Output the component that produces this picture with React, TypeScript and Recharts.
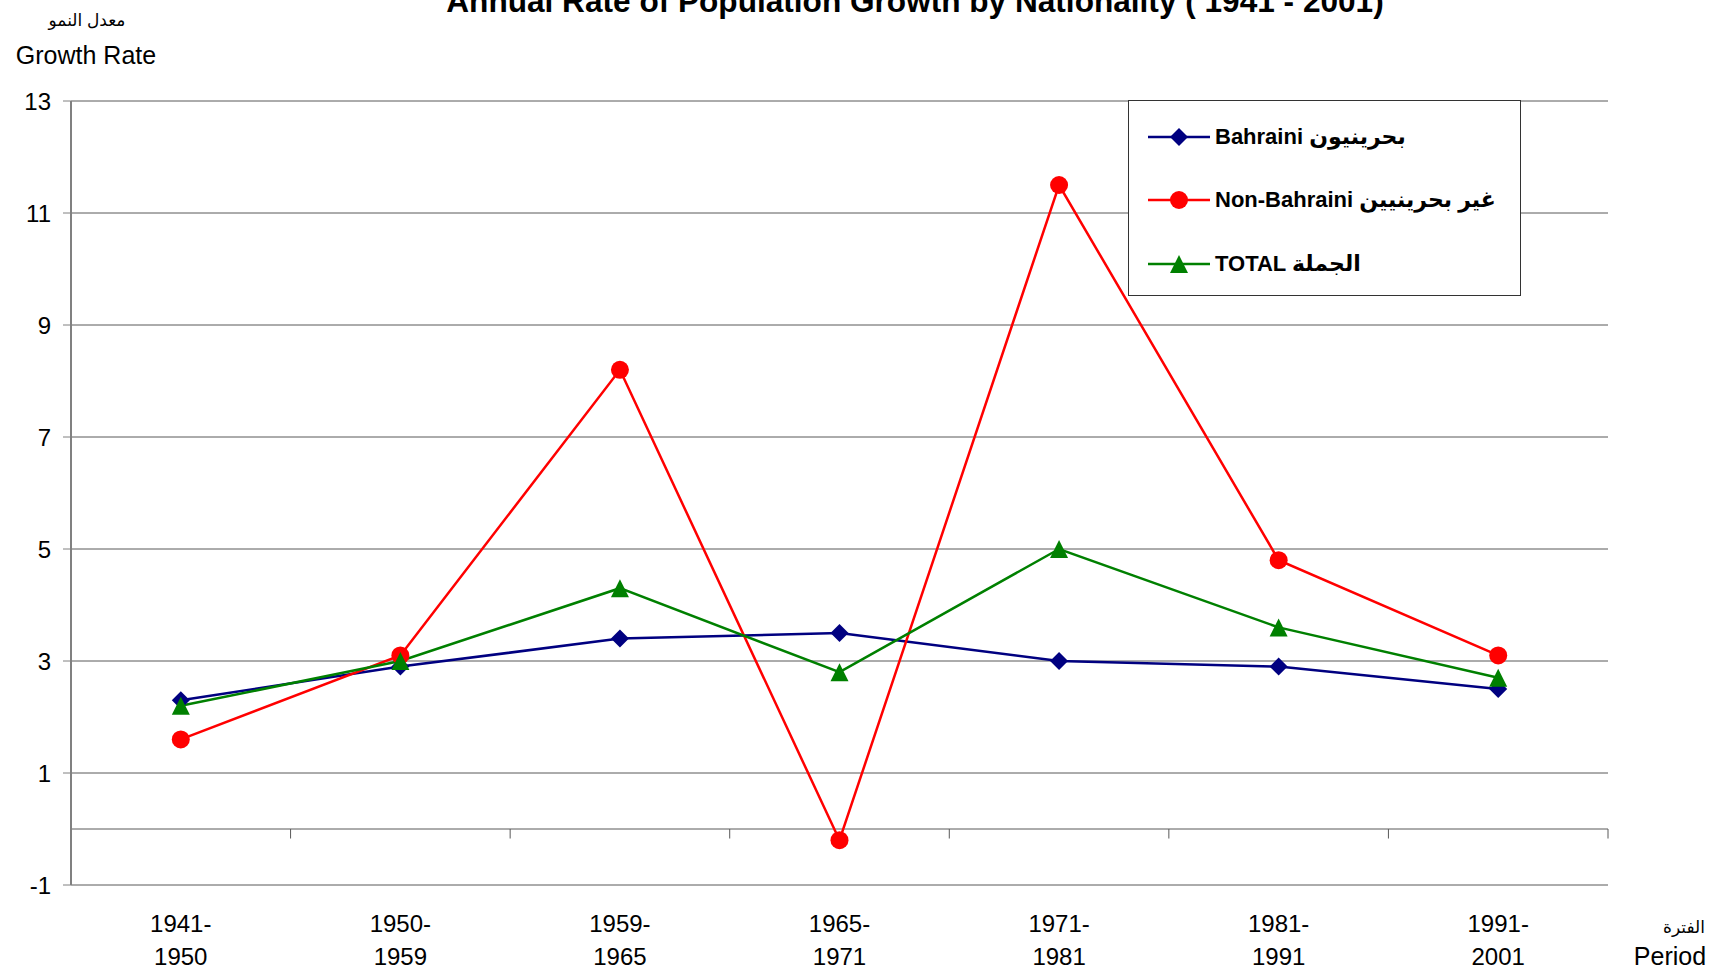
import React from "react";
import {
  LineChart, Line, XAxis, YAxis, CartesianGrid, ReferenceLine, Legend,
} from "recharts";

const PERIODS = ["1941-1950", "1950-1959", "1959-1965", "1965-1971", "1971-1981", "1981-1991", "1991-2001"];
const BAHRAINI = [2.3, 2.9, 3.4, 3.5, 3.0, 2.9, 2.5];
const NON_BAHRAINI = [1.6, 3.1, 8.2, -0.2, 11.5, 4.8, 3.1];
const TOTAL = [2.2, 3.0, 4.3, 2.8, 5.0, 3.6, 2.7];
const Y_TICKS = [-1, 1, 3, 5, 7, 9, 11, 13];

const data = PERIODS.map((period, i) => ({
  period,
  bahraini: BAHRAINI[i],
  nonBahraini: NON_BAHRAINI[i],
  total: TOTAL[i],
}));

const SERIES = [
  { key: "bahraini", name: "Bahraini بحرينيون", color: "#000080", marker: "diamond" },
  { key: "nonBahraini", name: "Non-Bahraini غير بحرينيين", color: "#FF0000", marker: "circle" },
  { key: "total", name: "TOTAL الجملة", color: "#008000", marker: "triangle" },
];

const FONT = "'Liberation Sans', Arial, 'DejaVu Sans', sans-serif";
const GRID = "#595959";

const W = 1715;
const H = 970;
const MARGIN = { top: 101, right: 107, bottom: 0, left: 11 };
const Y_AXIS_W = 60;
// half of one category slot, so points sit in the middle of each period
const HALF_BAND = (W - MARGIN.left - MARGIN.right - Y_AXIS_W) / PERIODS.length / 2;

const Marker = ({ kind, cx, cy, color }: any) => {
  if (cx == null || cy == null) return null;
  if (kind === "diamond") {
    return <polygon points={`${cx},${cy - 9} ${cx + 9},${cy} ${cx},${cy + 9} ${cx - 9},${cy}`} fill={color} />;
  }
  if (kind === "circle") return <circle cx={cx} cy={cy} r={9} fill={color} />;
  return <polygon points={`${cx},${cy - 9} ${cx + 9},${cy + 9} ${cx - 9},${cy + 9}`} fill={color} />;
};

const PeriodTick = ({ x, y, payload }: any) => {
  const [a, b] = String(payload.value).split("-");
  return (
    <text x={x} y={y} textAnchor="middle" fontSize={24} fill="#000" fontFamily={FONT}>
      <tspan x={x} dy={47}>{a}-</tspan>
      <tspan x={x} dy={32.5}>{b}</tspan>
    </text>
  );
};

// tick mark on the zero line at the right edge of a period slot
const BoundaryTick = (p: any) => (
  <line
    x1={p.x1 + HALF_BAND} y1={p.y1}
    x2={p.x2 + HALF_BAND} y2={p.y2}
    stroke={GRID} strokeWidth={1}
  />
);

const LegendBox = ({ payload }: any) => (
  <div style={{
    width: 393, height: 196, boxSizing: "border-box", border: "1px solid #333",
    background: "#fff", paddingTop: 4,
  }}>
    {(payload || []).map((item: any) => {
      const s = SERIES.find((x) => x.key === item.dataKey) || SERIES[0];
      return (
        <div key={s.key} style={{ height: 63.5, display: "flex", alignItems: "center", paddingLeft: 19 }}>
          <svg width={62} height={22} style={{ flex: "none" }}>
            <line x1={0} y1={11} x2={62} y2={11} stroke={s.color} strokeWidth={2.5} />
            <Marker kind={s.marker} cx={31} cy={11} color={s.color} />
          </svg>
          <span style={{
            marginLeft: 5, fontFamily: FONT, fontWeight: 700, fontSize: 22,
            color: "#000", whiteSpace: "nowrap",
          }}>
            {s.name}
          </span>
        </div>
      );
    })}
  </div>
);

export default function App() {
  return (
    <div style={{ position: "absolute", left: 0, top: 0, width: W, height: H, background: "#fff" }}>
      <LineChart width={W} height={H} data={data} margin={MARGIN}>
        <CartesianGrid vertical={false} stroke={GRID} />
        <XAxis
          dataKey="period"
          padding={{ left: HALF_BAND, right: HALF_BAND }}
          axisLine={false}
          tickLine={false}
          tickSize={0}
          tickMargin={0}
          height={85}
          interval={0}
          tick={<PeriodTick />}
        />
        <YAxis
          domain={[-1, 13]}
          ticks={Y_TICKS}
          interval={0}
          width={Y_AXIS_W}
          axisLine={{ stroke: "#808080", strokeWidth: 2 }}
          tickLine={{ stroke: "#808080" }}
          tickSize={8}
          tickMargin={12}
          tick={{ fontSize: 24, fill: "#000", fontFamily: FONT }}
        />
        <ReferenceLine y={0} stroke={GRID} />
        {PERIODS.map((p) => (
          <ReferenceLine
            key={p}
            segment={[{ x: p, y: 0 }, { x: p, y: -0.17 }]}
            shape={BoundaryTick}
            ifOverflow="visible"
          />
        ))}
        {SERIES.map((s) => (
          <Line
            key={s.key}
            dataKey={s.key}
            name={s.name}
            stroke={s.color}
            strokeWidth={2.5}
            isAnimationActive={false}
            dot={(p: any) => <Marker key={`${s.key}-${p.index}`} kind={s.marker} cx={p.cx} cy={p.cy} color={s.color} />}
            activeDot={false}
          />
        ))}
        <Legend
          layout="horizontal"
          verticalAlign="middle"
          align="center"
          content={<LegendBox />}
          wrapperStyle={{ left: 1128, top: 100, width: 393, height: 196 }}
        />
      </LineChart>
      <svg width={W} height={H} style={{ position: "absolute", left: 0, top: 0, pointerEvents: "none" }}>
        <text x={915} y={12} textAnchor="middle" fontFamily={FONT} fontWeight={700} fontSize={31.6} fill="#000">
          Annual Rate of Population Growth by Nationality ( 1941 - 2001)
        </text>
        <text x={87} y={26} textAnchor="middle" fontFamily={FONT} fontSize={17} fill="#000">معدل النمو</text>
        <text x={86} y={64} textAnchor="middle" fontFamily={FONT} fontSize={25} fill="#000">Growth Rate</text>
        <text x={1684} y={933} textAnchor="middle" fontFamily={FONT} fontSize={17} fill="#000">الفترة</text>
        <text x={1670} y={965} textAnchor="middle" fontFamily={FONT} fontSize={25} fill="#000">Period</text>
      </svg>
    </div>
  );
}
